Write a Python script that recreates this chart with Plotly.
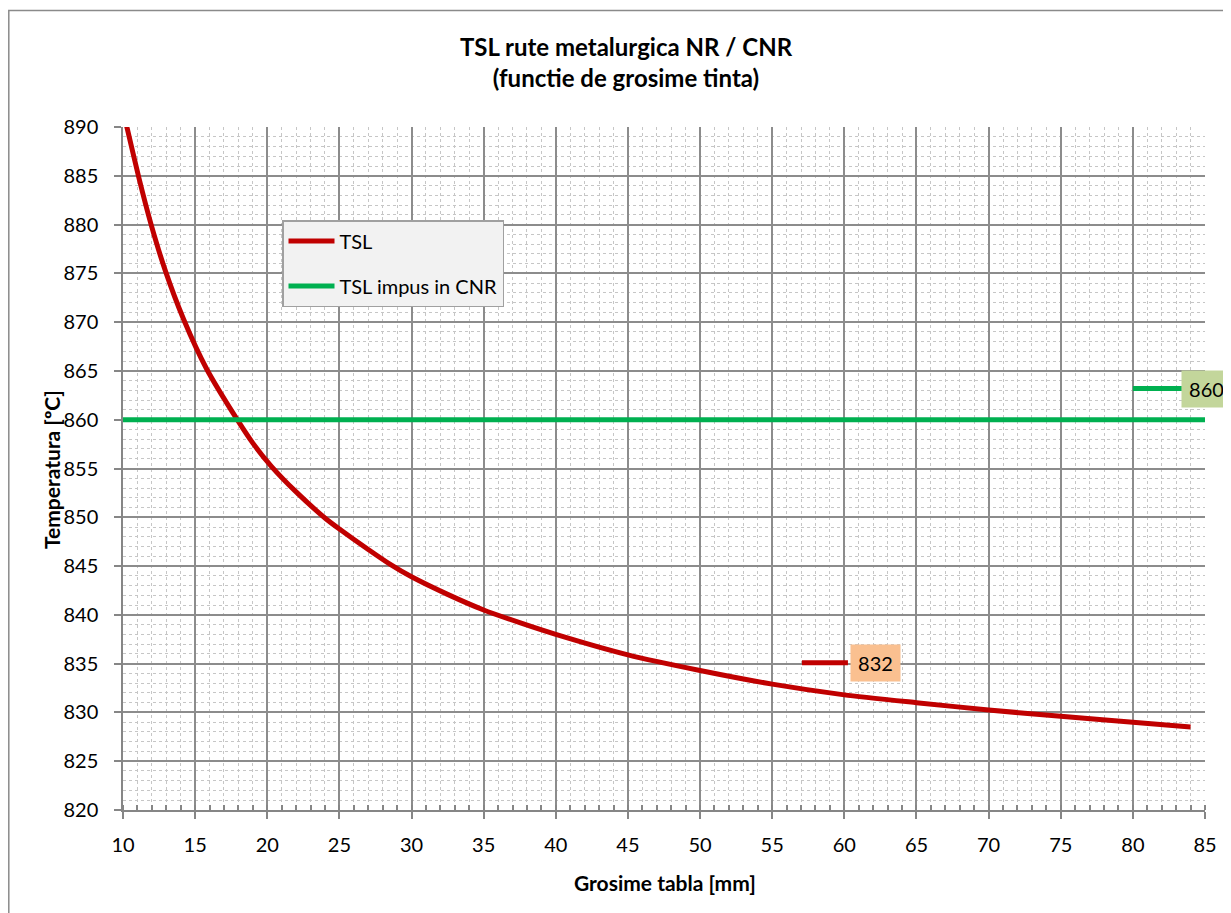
import plotly.graph_objects as go

# ---- data ----
thickness_mm = [10, 10.3, 11.1, 11.95, 12.95, 14.2, 15.8, 17.92, 19, 20.3, 22, 24.1, 25, 27,
                28.5, 30, 32.5, 35, 37.5, 40, 45, 50, 55, 60, 65, 70, 75, 80, 84]
tsl_c = [891.6, 889.8, 884.8, 880, 875.2, 870.3, 865.2, 860, 857.6, 855.2, 852.6, 849.8, 848.8, 846.7,
         845.2, 843.9, 842.1, 840.5, 839.2, 838.0, 835.9, 834.3, 832.9, 831.8, 831.0, 830.25,
         829.6, 829.0, 828.5]
cnr_x = [10, 85]
cnr_c = [860, 860]
label_values = [832, 860]

RED = "#c00000"
GREEN = "#00b050"
FONT = "Lato"

# page body has an 8px margin; plot area target: x 123..1205, y 127..810 (page px)
W, H = 1223, 905
PL, PT = 123 - 8, 127 - 8
PW, PH = 1082, 683


def px(xp):  # page x pixel -> paper x
    return (xp - 123) / PW


def py(yp):  # page y pixel -> paper y
    return (810 - yp) / PH


fig = go.Figure()
fig.add_trace(go.Scatter(x=thickness_mm, y=tsl_c, mode="lines", name="TSL",
                         line=dict(color=RED, width=5, shape="spline", smoothing=0.6),
                         legendgroup="a"))
fig.add_trace(go.Scatter(x=cnr_x, y=cnr_c, mode="lines", name="TSL impus in CNR",
                         line=dict(color=GREEN, width=5), legendgroup="b"))

# data labels with leader lines
fig.add_shape(type="line", xref="x", yref="y", x0=57.06, x1=60.25, y0=835.1, y1=835.1,
              line=dict(color=RED, width=5))
fig.add_annotation(x=px(875), y=py(663), xref="paper", yref="paper", xanchor="center", yanchor="middle",
                   text=str(label_values[0]), showarrow=False,
                   font=dict(family=FONT, size=20, color="black"),
                   bgcolor="#fac090", borderpad=6, width=37, height=24)
fig.add_shape(type="line", xref="x", yref="y", x0=80.0, x1=83.4, y0=863.2, y1=863.2,
              line=dict(color=GREEN, width=5))
fig.add_annotation(x=px(1206), y=py(388.5), xref="paper", yref="paper", xanchor="center", yanchor="middle",
                   text=str(label_values[1]), showarrow=False,
                   font=dict(family=FONT, size=20, color="black"),
                   bgcolor="#c3d69b", borderpad=6, width=37, height=24)

# outer chart border
fig.add_shape(type="rect", xref="paper", yref="paper",
              x0=px(8.8), x1=px(1260), y0=py(940), y1=py(10.5),
              line=dict(color="#8a8a8a", width=1.5), fillcolor="rgba(0,0,0,0)", layer="below")

# axis titles
fig.add_annotation(text="<b>Grosime tabla [mm]</b>", xref="paper", yref="paper",
                   x=px(665), y=py(882), xanchor="center", yanchor="middle", showarrow=False,
                   font=dict(family=FONT, size=21, color="black"))
fig.add_annotation(text="<b>Temperatura [ºC]</b>", xref="paper", yref="paper",
                   x=px(51), y=py(470), xanchor="center", yanchor="middle", showarrow=False,
                   textangle=-90, font=dict(family=FONT, size=21, color="black"))

axis_common = dict(showline=True, linecolor="#868686", linewidth=1.5,
                   showgrid=True, gridcolor="#8c8c8c", gridwidth=1.5,
                   ticks="outside", ticklen=7, tickcolor="#868686", tickwidth=1.5,
                   tickfont=dict(family=FONT, size=20, color="black"),
                   zeroline=False)

fig.update_xaxes(range=[10, 85], dtick=5, tick0=10, ticklabelstandoff=9,
                 minor=dict(dtick=1, showgrid=True, griddash="dot", gridcolor="#c6c6c6", gridwidth=1,
                            ticks="inside", ticklen=5, tickcolor="#868686"),
                 **axis_common)
fig.update_yaxes(range=[820, 890], dtick=5, tick0=820, ticklabelstandoff=12,
                 minor=dict(dtick=1, showgrid=True, griddash="dot", gridcolor="#c6c6c6", gridwidth=1),
                 **axis_common)

fig.update_layout(
    width=W, height=H,
    margin=dict(l=PL, r=W - PL - PW, t=PT, b=H - PT - PH),
    paper_bgcolor="white", plot_bgcolor="white",
    title=dict(text="<b>TSL rute metalurgica NR / CNR<br>(functie de grosime tinta)</b>",
               x=(626 - 8) / W, xanchor="center", y=1 - (56 - 8) / H, yanchor="middle",
               yref="container", font=dict(family=FONT, size=24, color="black")),
    showlegend=True,
    legend=dict(x=px(282), y=py(220), xanchor="left", yanchor="top",
                bgcolor="#f2f2f2", bordercolor="#a0a0a0", borderwidth=1.5,
                font=dict(family=FONT, size=20, color="black"), tracegroupgap=16,
                entrywidth=236, itemwidth=46),
    font=dict(family=FONT),
)

fig.write_html("out.html")
